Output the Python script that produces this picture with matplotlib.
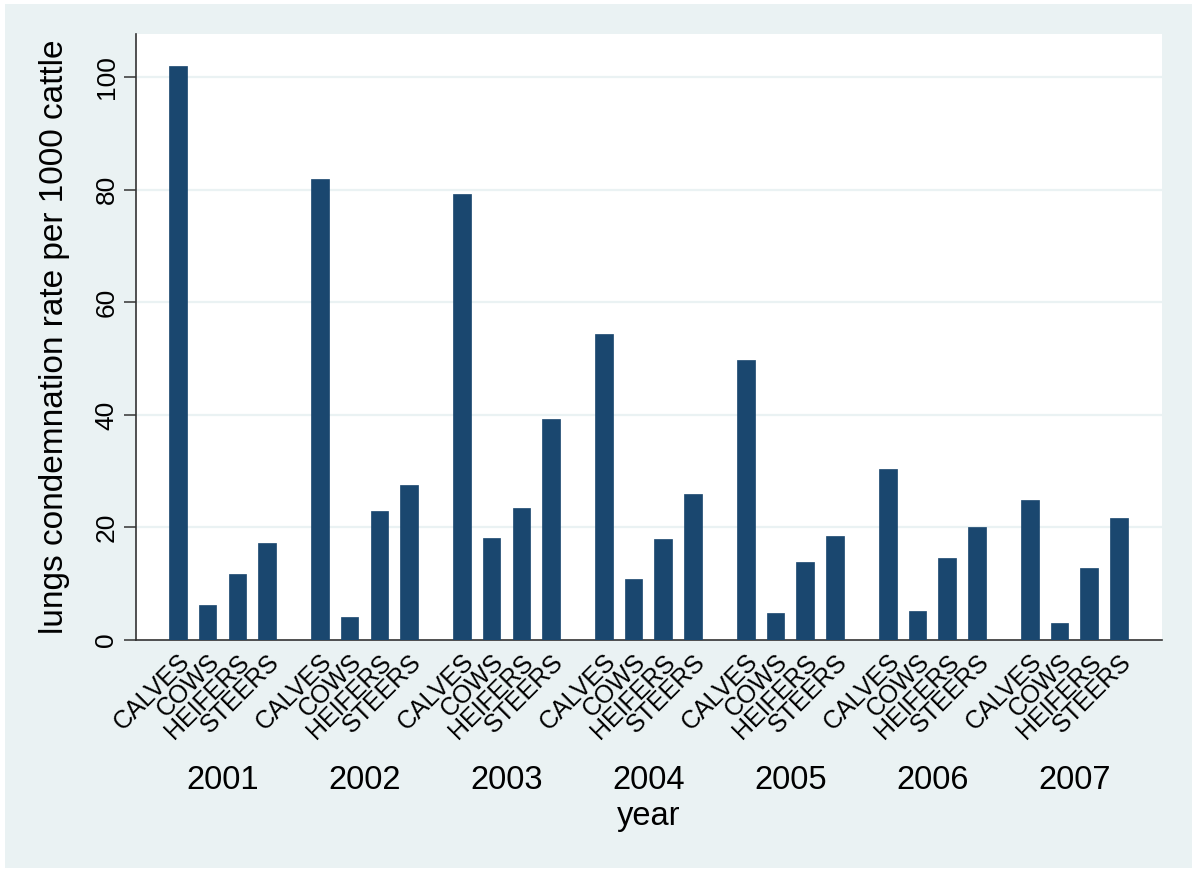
import matplotlib
matplotlib.use("Agg")
import matplotlib.pyplot as plt
from matplotlib.patches import Rectangle
from matplotlib.transforms import blended_transform_factory

years = ["2001", "2002", "2003", "2004", "2005", "2006", "2007"]
categories = ["CALVES", "COWS", "HEIFERS", "STEERS"]

calves = [102.0, 82.0, 79.2, 54.3, 49.7, 30.4, 24.9]
cows = [6.3, 4.1, 18.2, 10.8, 4.8, 5.1, 3.0]
heifers = [11.7, 22.9, 23.5, 18.0, 13.8, 14.6, 12.8]
steers = [17.3, 27.6, 39.3, 25.9, 18.4, 20.1, 21.6]

y_ticks = [0, 20, 40, 60, 80, 100]

BAR_COLOR = "#1A476F"
BG_COLOR = "#EAF2F3"
AXIS_COLOR = "#333333"
FONT = "Liberation Sans"


def main():
    plt.rcParams["font.family"] = [FONT, "DejaVu Sans"]

    fig = plt.figure(figsize=(12, 8.75), dpi=100, facecolor="white")
    fig.patches.append(Rectangle(
        (5 / 1200, 7 / 875), 1187 / 1200, 864 / 875,
        transform=fig.transFigure, facecolor=BG_COLOR,
        edgecolor="none", zorder=-10
    ))

    ax = fig.add_axes([136 / 1200, 235 / 875, 1026 / 1200, 606 / 875])
    ax.set_facecolor("white")

    group_step = 4.78
    series = [calves, cows, heifers, steers]
    positions, labels, group_centers = [], [], []
    for g in range(len(years)):
        for i, vals in enumerate(series):
            x = g * group_step + i
            ax.bar(x, vals[g], width=0.59, color=BAR_COLOR,
                   edgecolor=BAR_COLOR, linewidth=0.5, zorder=3)
            positions.append(x)
            labels.append(categories[i])
        group_centers.append(g * group_step + 1.5)

    ax.set_xlim(-1.41, (len(years) - 1) * group_step + 3 + 1.45)
    ax.set_ylim(0, 107.7)

    ax.set_yticks(y_ticks)
    ax.set_yticklabels([str(t) for t in y_ticks], rotation=90,
                       va="center", fontsize=19)
    for t in y_ticks[1:]:
        ax.axhline(t, color=BG_COLOR, linewidth=1.6, zorder=1)

    ax.set_xticks(positions)
    ax.set_xticklabels(labels, rotation=45, ha="right",
                       rotation_mode="anchor", fontsize=18)
    ax.tick_params(axis="x", length=0, pad=7)
    ax.tick_params(axis="y", length=8.6, width=1.1, color=AXIS_COLOR,
                   pad=4)

    for side in ["top", "right"]:
        ax.spines[side].set_visible(False)
    for side in ["left", "bottom"]:
        ax.spines[side].set_color(AXIS_COLOR)
        ax.spines[side].set_linewidth(1.2)

    trans = blended_transform_factory(ax.transData, ax.transAxes)
    for x, year in zip(group_centers, years):
        ax.text(x, -0.246, year, transform=trans, ha="center",
                va="baseline", fontsize=23.5)

    ax.text(0.5, -0.305, "year", transform=ax.transAxes, ha="center",
            va="baseline", fontsize=23.5)
    ax.text(-0.079, 0.5, "lungs condemnation rate per 1000 cattle",
            transform=ax.transAxes, rotation=90, ha="center",
            va="center", fontsize=24)

    fig.savefig("out.png", dpi=100, facecolor="white")


if __name__ == "__main__":
    main()
